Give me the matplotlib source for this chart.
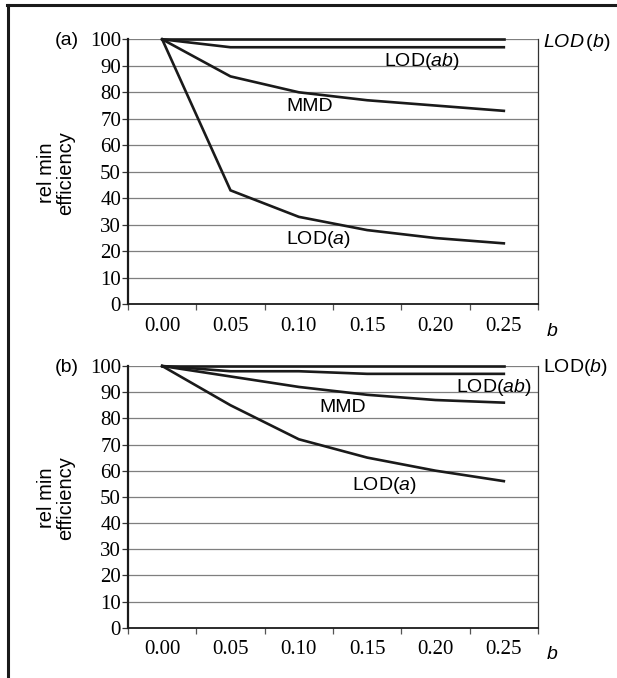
import matplotlib
matplotlib.use("Agg")
import matplotlib.pyplot as plt
from matplotlib.lines import Line2D
import numpy as np

categories = ["0.00", "0.05", "0.10", "0.15", "0.20", "0.25"]
y_ticks = [0, 10, 20, 30, 40, 50, 60, 70, 80, 90, 100]

a_lod_b = [100, 100, 100, 100, 100, 100]
a_lod_ab = [100, 97, 97, 97, 97, 97]
a_mmd = [100, 86, 80, 77, 75, 73]
a_lod_a = [100, 43, 33, 28, 25, 23]

b_lod_b = [100, 100, 100, 100, 100, 100]
b_lod_ab = [100, 98, 98, 97, 97, 97]
b_mmd = [100, 96, 92, 89, 87, 86]
b_lod_a = [100, 85, 72, 65, 60, 56]

W, H = 617, 678
fig = plt.figure(figsize=(W / 100, H / 100), dpi=100)

plt.rcParams["mathtext.fontset"] = "custom"
plt.rcParams["mathtext.it"] = "Liberation Sans:italic"
plt.rcParams["mathtext.rm"] = "Liberation Sans"

SERIF = "Liberation Serif"
SANS = "Liberation Sans"
TICK_FS = 15
LAB_FS = 14


def fx(px):
    return px / W


def fy(py):
    return 1 - py / H


def lbl(prefix, ital):
    return prefix + "(" + r"$\mathit{" + ital + "}$" + ")"


def make_panel(top_px, bot_px, series, panel_label, labels, lodb_text, lodb_dy):
    left_px, right_px = 128, 538
    ax = fig.add_axes([fx(left_px), fy(bot_px), fx(right_px) - fx(left_px), fy(top_px) - fy(bot_px)])
    x = np.arange(len(categories))
    for s in series:
        ax.plot(x, s, color="#1a1a1a", lw=1.9, solid_joinstyle="miter", zorder=3, clip_on=False)
    ax.set_xlim(-0.5, len(categories) - 0.5)
    ax.set_ylim(0, 100)
    ax.set_yticks(y_ticks)
    ax.set_yticklabels([str(v) for v in y_ticks], fontfamily=SERIF, fontsize=TICK_FS)
    ax.set_xticks(x)
    ax.set_xticklabels(categories, fontfamily=SERIF, fontsize=TICK_FS)
    ax.set_xticks(np.arange(len(categories) + 1) - 0.5, minor=True)
    ax.tick_params(axis="x", which="major", length=0, pad=9)
    ax.tick_params(axis="x", which="minor", length=4, width=0.9, color="#555555", direction="out")
    ax.tick_params(axis="y", which="major", length=4, width=0.9, direction="out", pad=1, color="#333333")
    for v in y_ticks[1:]:
        ax.axhline(v, color="#7f7f7f", lw=0.9, zorder=1)
    ax.spines["left"].set_linewidth(1.6)
    ax.spines["left"].set_color("#1a1a1a")
    ax.spines["bottom"].set_linewidth(1.3)
    ax.spines["bottom"].set_color("#1a1a1a")
    ax.spines["right"].set_linewidth(0.9)
    ax.spines["right"].set_color("#333333")
    ax.spines["top"].set_visible(False)
    ax.set_facecolor("white")

    fig.text(fx(67), fy(top_px + 1), panel_label, fontfamily=SANS, fontsize=LAB_FS, ha="center", va="center")
    fig.text(fx(56), fy((top_px + bot_px) / 2 + 1), "rel min\nefficiency", fontfamily=SANS, fontsize=LAB_FS + 0.5,
             rotation=90, ha="center", va="center", linespacing=1.0)
    fig.text(fx(552), fy(bot_px + 27), "b", fontfamily=SANS, fontstyle="italic", fontsize=LAB_FS,
             ha="center", va="center")
    for (lx, ly, txt) in labels:
        ax.text(lx, ly, txt, fontfamily=SANS, fontsize=LAB_FS, ha="center", va="center", zorder=4)
    fig.text(fx(543), fy(top_px + lodb_dy), lodb_text, fontfamily=SANS, fontsize=LAB_FS, ha="left", va="center")
    return ax


make_panel(39.3, 304.3, [a_lod_b, a_lod_ab, a_mmd, a_lod_a], "(a)",
           [(3.80, 91.6, lbl("LOD", "ab")), (2.16, 74.6, "MMD"), (2.28, 24.5, lbl("LOD", "a"))],
           r"$\mathit{LOD}\,\mathit{(b)}$", 3)
make_panel(366.0, 627.7, [b_lod_b, b_lod_ab, b_mmd, b_lod_a], "(b)",
           [(4.86, 91.9, lbl("LOD", "ab")), (2.64, 84.2, "MMD"), (3.25, 54.3, lbl("LOD", "a"))],
           lbl("LOD", "b"), 2)

fig.add_artist(Line2D([fx(7.5), fx(7.5)], [0, fy(5)], color="#1a1a1a", lw=2.2, transform=fig.transFigure))
fig.add_artist(Line2D([fx(6.5), 1], [fy(5), fy(5)], color="#1a1a1a", lw=2.2, transform=fig.transFigure))

fig.savefig("out.png", dpi=100, facecolor="white")
